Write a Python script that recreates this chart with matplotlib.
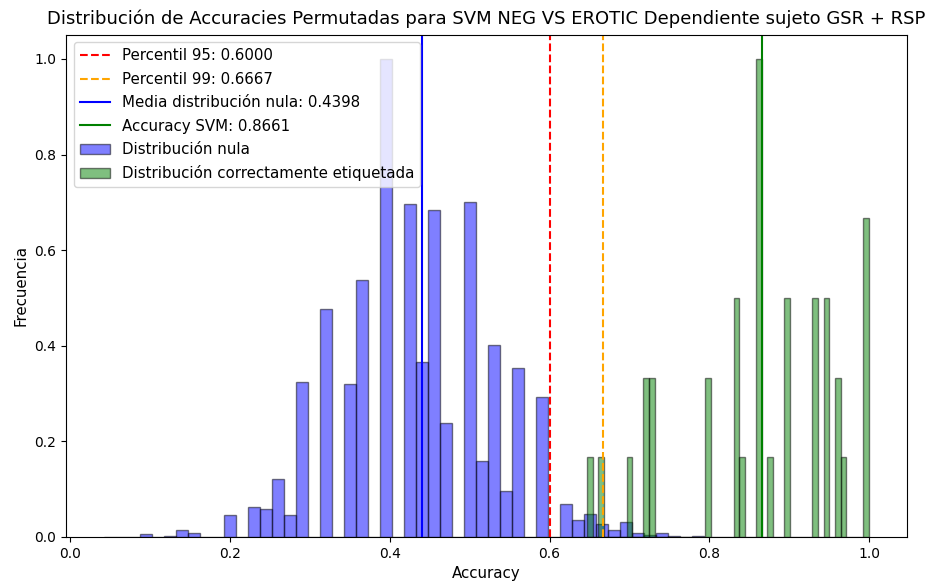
import matplotlib
matplotlib.use('Agg')
import matplotlib.pyplot as plt
import numpy as np

# Distribución nula (accuracies permutadas), 50 bins normalizados al máximo
nula_min, nula_max = 0.0427, 0.7937
nula_alturas = [0, 0, 0, 0.006, 0, 0.002, 0.014, 0.009, 0, 0,
                0.047, 0, 0.062, 0.058, 0.122, 0.047, 0.325, 0, 0.476, 0,
                0.32, 0.537, 0, 1.0, 0, 0.696, 0.365, 0.683, 0.239, 0,
                0.700, 0.158, 0.401, 0.096, 0.353, 0, 0.292, 0, 0.069, 0.036,
                0.049, 0.027, 0.014, 0.032, 0.008, 0.004, 0.009, 0.003, 0, 0.002]

# Distribución correctamente etiquetada, 50 bins
real_min, real_max = 0.6469, 0.9994
real_alturas = [0.0] * 50
for i, h in {0: 1/6, 2: 1/6, 7: 1/6, 10: 1/3, 11: 1/3, 21: 1/3, 26: 0.5,
             27: 1/6, 30: 1.0, 32: 1/6, 35: 0.5, 40: 0.5, 42: 0.5, 44: 1/3,
             45: 1/6, 49: 2/3}.items():
	real_alturas[i] = h

percentil_95 = 0.6000
percentil_99 = 0.6667
media_nula = 0.4398
accuracy_svm = 0.8661

def histograma(ax, lo, hi, alturas, color, label):
	bins = np.linspace(lo, hi, len(alturas) + 1)
	centros = (bins[:-1] + bins[1:]) / 2
	ax.hist(centros, bins=bins, weights=alturas, color=color, alpha=0.5,
	        edgecolor='black', label=label)

fig = plt.figure(figsize=(9.3, 5.85), dpi=100)
ax = fig.add_axes([0.071, 0.0821, 0.9043, 0.8581])

ax.axvline(percentil_95, color='red', linestyle='--', label=f'Percentil 95: {percentil_95:.4f}')
ax.axvline(percentil_99, color='orange', linestyle='--', label=f'Percentil 99: {percentil_99:.4f}')
ax.axvline(media_nula, color='blue', label=f'Media distribución nula: {media_nula:.4f}')
ax.axvline(accuracy_svm, color='green', label=f'Accuracy SVM: {accuracy_svm:.4f}')

histograma(ax, nula_min, nula_max, nula_alturas, 'blue', 'Distribución nula')
histograma(ax, real_min, real_max, real_alturas, 'green', 'Distribución correctamente etiquetada')

ax.set_title('Distribución de Accuracies Permutadas para SVM NEG VS EROTIC Dependiente sujeto GSR + RSP',
             fontsize=13, pad=8)
ax.set_xlabel('Accuracy', fontsize=10.8)
ax.set_ylabel('Frecuencia', fontsize=10.8)
ax.legend(loc='upper left', fontsize=10.8, labelspacing=0.56)

fig.savefig('out.png', dpi=100)
